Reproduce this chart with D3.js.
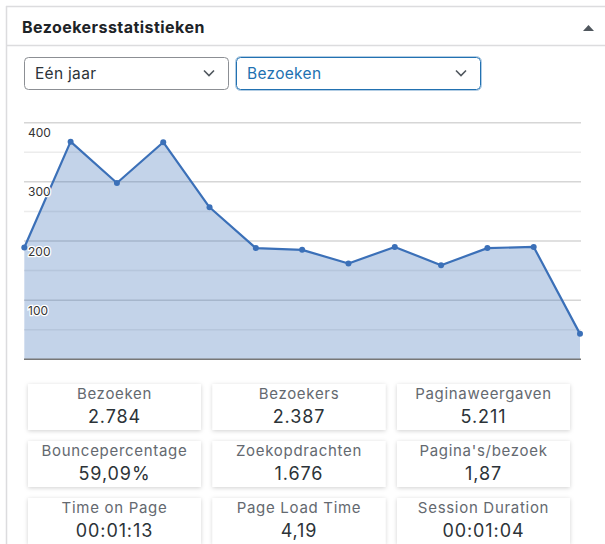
<!DOCTYPE html>
<html>
<head>
<meta charset="utf-8">
<script src="https://cdn.jsdelivr.net/npm/d3@7"></script>
<style>
  html, body { margin: 0; padding: 0; background: #fff; }
  svg { display: block; font-family: Inter, Roboto, "Noto Sans", sans-serif; }
</style>
</head>
<body>
<svg id="chart" width="605" height="544"></svg>
<script>
// ---- data ----
const title = "Bezoekersstatistieken";
const periodOption = "Eén jaar";
const metricOption = "Bezoeken";
const months = ["m1","m2","m3","m4","m5","m6","m7","m8","m9","m10","m11","m12","m13"];
const visits = [189, 368, 298, 367, 257, 188, 185, 162, 190, 159, 188, 190, 43];
const yTickValues = [100, 200, 300, 400];
const yGridValues = [50, 100, 150, 200, 250, 300, 350, 400];
const statLabels = ["Bezoeken", "Bezoekers", "Paginaweergaven",
                    "Bouncepercentage", "Zoekopdrachten", "Pagina's/bezoek",
                    "Time on Page", "Page Load Time", "Session Duration"];
const statValues = ["2.784", "2.387", "5.211",
                    "59,09%", "1.676", "1,87",
                    "00:01:13", "4,19", "00:01:04"];

const svg = d3.select("#chart");

// shadow filter for stat boxes
const defs = svg.append("defs");
const f = defs.append("filter").attr("id", "shadow")
  .attr("x", "-10%").attr("y", "-20%").attr("width", "120%").attr("height", "150%");
f.append("feDropShadow").attr("dx", 0).attr("dy", 1).attr("stdDeviation", 2)
  .attr("flood-color", "#000").attr("flood-opacity", 0.18);

// ---- panel frame ----
const border = "#dcdcde";
svg.append("line").attr("x1", 6).attr("x2", 605).attr("y1", 6.5).attr("y2", 6.5)
  .attr("stroke", border).attr("stroke-width", 1.5);
svg.append("line").attr("x1", 6.5).attr("x2", 6.5).attr("y1", 6).attr("y2", 544)
  .attr("stroke", border).attr("stroke-width", 1.5);
svg.append("line").attr("x1", 7).attr("x2", 605).attr("y1", 45.5).attr("y2", 45.5)
  .attr("stroke", border).attr("stroke-width", 1.5);

svg.append("text").attr("x", 22).attr("y", 33.3)
  .attr("font-size", 16).attr("font-weight", 700).attr("fill", "#1d2327")
  .attr("letter-spacing", 0.45)
  .text(title);
svg.append("path").attr("d", "M583,31 L594,31 L588.5,25 Z").attr("fill", "#50575e");

// ---- dropdowns ----
function dropdown(x, w, label, stroke, color) {
  const g = svg.append("g");
  g.append("rect").attr("x", x + 0.5).attr("y", 57.5).attr("width", w).attr("height", 32)
    .attr("rx", 4).attr("fill", "#fff").attr("stroke", stroke).attr("stroke-width", 1);
  g.append("text").attr("x", x + 11).attr("y", 78.5).attr("font-size", 15.5)
    .attr("letter-spacing", 0.3).attr("fill", color).text(label);
  const cx = x + w - 19;
  g.append("path").attr("d", `M${cx - 5},70.5 L${cx},75.5 L${cx + 5},70.5`)
    .attr("fill", "none").attr("stroke", "#50575e").attr("stroke-width", 1.6);
  return g;
}
dropdown(24, 204, periodOption, "#8c8f94", "#2c3338");
svg.append("rect").attr("x", 235.5).attr("y", 56.5).attr("width", 246).attr("height", 34)
  .attr("rx", 5).attr("fill", "none").attr("stroke", "#2271b1").attr("stroke-opacity", 0.35);
dropdown(236, 244, metricOption, "#2271b1", "#2271b1");

// ---- chart ----
const x = d3.scalePoint().domain(months).range([24.3, 580]);
const y = d3.scaleLinear().domain([0, 400]).range([359.3, 122.7]);

const grid = svg.append("g");
grid.selectAll("line").data(yGridValues).join("line")
  .attr("x1", 24).attr("x2", 581)
  .attr("y1", d => y(d)).attr("y2", d => y(d))
  .attr("stroke", d => d % 100 === 0 ? "#d6d6d6" : "#ececec")
  .attr("stroke-width", 1.5);

const area = d3.area().x((d, i) => x(months[i])).y0(y(0)).y1(d => y(d));
svg.append("path").datum(visits).attr("d", area)
  .attr("fill", "#3d72b8").attr("fill-opacity", 0.31);

svg.append("line").attr("x1", 24).attr("x2", 581).attr("y1", y(0)).attr("y2", y(0))
  .attr("stroke", "#777").attr("stroke-width", 1.5);

const line = d3.line().x((d, i) => x(months[i])).y(d => y(d));
svg.append("path").datum(visits).attr("d", line)
  .attr("fill", "none").attr("stroke", "#3b70b8").attr("stroke-width", 2.2)
  .attr("stroke-linejoin", "round");
svg.append("g").selectAll("circle").data(visits).join("circle")
  .attr("cx", (d, i) => x(months[i])).attr("cy", d => y(d)).attr("r", 3)
  .attr("fill", "#3b70b8");

const yAxis = d3.axisRight(y).tickValues(yTickValues).tickSize(0).tickPadding(0)
  .tickFormat(d3.format("d"));
const ag = svg.append("g").attr("transform", "translate(28,0)").call(yAxis);
ag.select(".domain").remove();
ag.selectAll("text").attr("dy", 0).attr("y", 14)
  .attr("font-size", 12).attr("font-family", "Inter, Roboto, sans-serif")
  .attr("fill", "#333").attr("stroke", "#fff").attr("stroke-width", 2.5)
  .attr("paint-order", "stroke");

// ---- stat boxes ----
const colX = [28, 212.5, 397];
const rowY = [384, 441, 498];
const boxW = 173, boxH = 46;
const boxes = svg.append("g").selectAll("g").data(statLabels).join("g")
  .attr("transform", (d, i) => `translate(${colX[i % 3]},${rowY[Math.floor(i / 3)]})`);
boxes.append("rect").attr("width", boxW).attr("height", boxH)
  .attr("fill", "#fff").attr("filter", "url(#shadow)");
boxes.append("text").attr("x", boxW / 2).attr("y", 14.5).attr("text-anchor", "middle")
  .attr("font-size", 15).attr("letter-spacing", 0.7)
  .attr("fill", "#646970").text(d => d);
boxes.append("text").attr("x", boxW / 2).attr("y", 39).attr("text-anchor", "middle")
  .attr("font-size", 18).attr("letter-spacing", 0.9)
  .attr("fill", "#2c3338").text((d, i) => statValues[i]);
</script>
</body>
</html>
